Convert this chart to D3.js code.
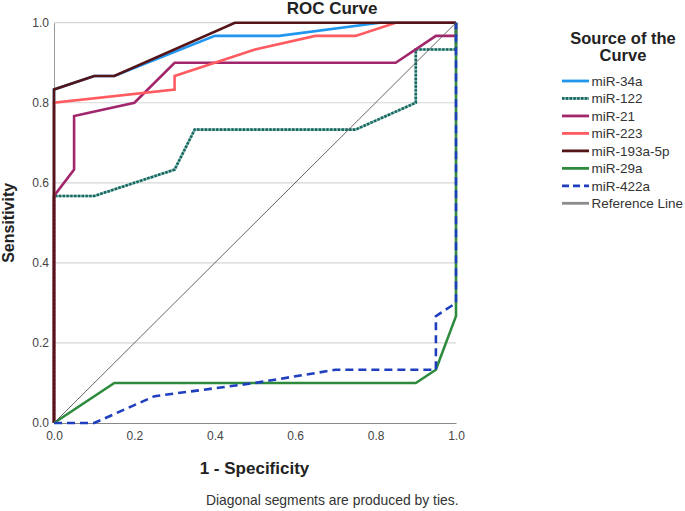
<!DOCTYPE html>
<html>
<head>
<meta charset="utf-8">
<script src="https://cdn.jsdelivr.net/npm/d3@7"></script>
<style>
  html, body { margin: 0; padding: 0; background: #fff; }
  svg { display: block; font-family: "Liberation Sans", Arial, sans-serif; }
</style>
</head>
<body>
<svg id="chart" width="685" height="511"></svg>
<script>
// ---- Data ----
const seriesNames = ["miR-34a", "miR-122", "miR-21", "miR-223", "miR-193a-5p", "miR-29a", "miR-422a"];

// each curve: [1 - specificity, sensitivity]
const miR34a = [[0,0],[0,0.833],[0.1,0.867],[0.15,0.867],[0.4,0.967],[0.56,0.967],[0.81,1],[1,1]];
const miR122 = [[0,0],[0,0.567],[0.1,0.567],[0.3,0.633],[0.35,0.733],[0.75,0.733],[0.9,0.8],[0.9,0.933],[1,0.933],[1,1]];
const miR21 = [[0,0],[0,0.567],[0.05,0.633],[0.05,0.767],[0.2,0.8],[0.3,0.9],[0.85,0.9],[0.95,0.967],[1,0.967],[1,1]];
const miR223 = [[0,0],[0,0.8],[0.3,0.833],[0.3,0.867],[0.5,0.933],[0.65,0.967],[0.75,0.967],[0.85,1],[1,1]];
const miR193a5p = [[0,0],[0,0.833],[0.1,0.867],[0.15,0.867],[0.45,1],[1,1]];
const miR29a = [[0,0],[0.15,0.1],[0.9,0.1],[0.95,0.133],[1,0.267],[1,1]];
const miR422a = [[0,0],[0.1,0],[0.25,0.067],[0.5,0.1],[0.7,0.133],[0.95,0.133],[0.95,0.267],[1,0.3],[1,1]];
const referenceLine = [[0,0],[1,1]];

const tickValues = [0, 0.2, 0.4, 0.6, 0.8, 1.0];

// ---- Styles ----
const seriesData = [miR34a, miR122, miR21, miR223, miR193a5p, miR29a, miR422a];
const colors = ["#2196ee", "#17675f", "#a2266b", "#ff5c62", "#541418", "#2e8b3d", "#1f3fbf"];
const underColors = [null, "#8fbfb9", null, null, null, null, null];
const dashes = [null, "2.4,1.4", null, null, null, null, "8,5"];

const svg = d3.select("#chart");

const x = d3.scaleLinear().domain([0, 1]).range([54, 456]);
const y = d3.scaleLinear().domain([0, 1]).range([423, 22.7]);

// gridlines
svg.append("g")
  .selectAll("line")
  .data(tickValues.filter(d => d > 0))
  .join("line")
  .attr("x1", x(0)).attr("x2", x(1))
  .attr("y1", d => y(d)).attr("y2", d => y(d))
  .attr("stroke", "#d6d6d6").attr("stroke-width", 1.2);

// axes
const yAxis = d3.axisLeft(y).tickValues(tickValues).tickFormat(d3.format(".1f")).tickSize(0).tickPadding(5);
const gy = svg.append("g").attr("transform", `translate(${x(0)},0)`).call(yAxis);
gy.select(".domain").attr("stroke", "#999");
gy.selectAll("text").attr("font-size", 12).attr("fill", "#444").attr("font-family", "Liberation Sans, Arial, sans-serif");

const xAxis = d3.axisBottom(x).tickValues(tickValues).tickFormat(d3.format(".1f")).tickSize(0).tickPadding(8);
const gx = svg.append("g").attr("transform", `translate(0,${y(0)})`).call(xAxis);
gx.select(".domain").attr("stroke", "#888").attr("stroke-width", 1.2);
gx.selectAll("text").attr("font-size", 12).attr("fill", "#444").attr("font-family", "Liberation Sans, Arial, sans-serif");

// curves
const line = d3.line().x(d => x(d[0])).y(d => y(d[1]));
const plot = svg.append("g");
seriesData.forEach((data, i) => {
  if (underColors[i]) {
    plot.append("path")
      .datum(data)
      .attr("d", line)
      .attr("fill", "none")
      .attr("stroke", underColors[i])
      .attr("stroke-width", 2.6);
  }
  plot.append("path")
    .datum(data)
    .attr("d", line)
    .attr("fill", "none")
    .attr("stroke", colors[i])
    .attr("stroke-width", 2.6)
    .attr("stroke-linejoin", "miter")
    .attr("stroke-dasharray", dashes[i]);
});
plot.append("path")
  .datum(referenceLine)
  .attr("d", line)
  .attr("fill", "none")
  .attr("stroke", "#555")
  .attr("stroke-width", 0.9);

// titles
svg.append("text").attr("x", 332).attr("y", 14).attr("text-anchor", "middle")
  .attr("font-size", 17).attr("font-weight", "bold").attr("fill", "#222").text("ROC Curve");
svg.append("text").attr("x", 254.5).attr("y", 474).attr("text-anchor", "middle")
  .attr("font-size", 17).attr("font-weight", "bold").attr("fill", "#222").text("1 - Specificity");
svg.append("text").attr("transform", `translate(14,${(y(0) + y(1)) / 2}) rotate(-90)`).attr("text-anchor", "middle")
  .attr("font-size", 16).attr("font-weight", "bold").attr("fill", "#222").text("Sensitivity");
svg.append("text").attr("x", 206).attr("y", 505)
  .attr("font-size", 13.9).attr("fill", "#333").text("Diagonal segments are produced by ties.");

// legend
const legend = svg.append("g");
legend.append("text").attr("x", 623).attr("y", 44).attr("text-anchor", "middle")
  .attr("font-size", 16.5).attr("font-weight", "bold").attr("fill", "#222").text("Source of the");
legend.append("text").attr("x", 623).attr("y", 61).attr("text-anchor", "middle")
  .attr("font-size", 16.5).attr("font-weight", "bold").attr("fill", "#222").text("Curve");

const legendNames = seriesNames.concat(["Reference Line"]);
const legendColors = colors.concat(["#8c8c8c"]);
const legendUnder = underColors.concat([null]);
const legendDashes = dashes.concat([null]);
const ly = d3.scaleLinear().domain([0, 7]).range([81, 203.3]);
legendNames.forEach((name, i) => {
  if (legendUnder[i]) {
    legend.append("line")
      .attr("x1", 562).attr("x2", 589)
      .attr("y1", ly(i)).attr("y2", ly(i))
      .attr("stroke", legendUnder[i])
      .attr("stroke-width", 2.8);
  }
  legend.append("line")
    .attr("x1", 562).attr("x2", 589)
    .attr("y1", ly(i)).attr("y2", ly(i))
    .attr("stroke", legendColors[i])
    .attr("stroke-width", 2.8)
    .attr("stroke-dasharray", legendDashes[i] === "8,5" ? "7,4" : legendDashes[i]);
  legend.append("text")
    .attr("x", 591.5).attr("y", ly(i) + 4.8)
    .attr("font-size", 13.5).attr("fill", "#333").text(name);
});
</script>
</body>
</html>
